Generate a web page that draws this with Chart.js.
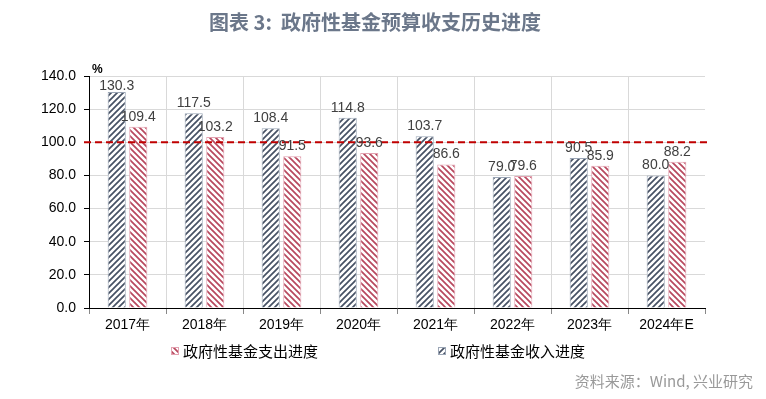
<!DOCTYPE html>
<html>
<head>
<meta charset="utf-8">
<script src="https://cdn.jsdelivr.net/npm/chart.js@4.4.1/dist/chart.umd.min.js"></script>
<style>
  html, body { margin: 0; padding: 0; background: #fff; }
  #wrap { width: 766px; height: 399px; }
</style>
</head>
<body>
<div id="wrap"><canvas id="chart" width="766" height="399"></canvas></div>
<script>
const categories = ["2017年", "2018年", "2019年", "2020年", "2021年", "2022年", "2023年", "2024年E"];
const incomeProgress = [130.3, 117.5, 108.4, 114.8, 103.7, 79.0, 90.5, 80.0];
const spendProgress = [109.4, 103.2, 91.5, 93.6, 86.6, 79.6, 85.9, 88.2];
const seriesNames = ["政府性基金收入进度", "政府性基金支出进度"];
const yMin = 0, yMax = 140, yStep = 20;
const referenceLevel = 100;
const titleText = "图表 3:  政府性基金预算收支历史进度";
const sourceText = "资料来源：Wind, 兴业研究";

const CJK = "'Noto Sans CJK SC', 'Noto Sans', sans-serif";
const NUM = "'Liberation Sans', Arial, sans-serif";

function makeHatch(color, dir) {
    const c = document.createElement("canvas");
    c.width = c.height = 6;
    const g = c.getContext("2d");
    g.fillStyle = "#fff";
    g.fillRect(0, 0, 6, 6);
    g.strokeStyle = color;
    g.lineWidth = 1.7;
    g.beginPath();
    if (dir == "/") {
        g.moveTo(0, 6); g.lineTo(6, 0);
        g.moveTo(-1, 1); g.lineTo(1, -1);
        g.moveTo(5, 7); g.lineTo(7, 5);
    } else {
        g.moveTo(0, 0); g.lineTo(6, 6);
        g.moveTo(-1, 5); g.lineTo(1, 7);
        g.moveTo(5, -1); g.lineTo(7, 1);
    }
    g.stroke();
    return g.createPattern(c, "repeat");
}

const darkHatch = makeHatch("#465164", "/");
const redHatch = makeHatch("#b8485e", "\\");

// page furniture: title, % unit, dashed 100 line, value labels, legend, source
const decorations = {
    id: "decorations",
    afterDatasetsDraw(chart) {
        const ctx = chart.ctx;
        const area = chart.chartArea;
        const y = chart.scales.y;

        // dashed reference line
        const ry = y.getPixelForValue(referenceLevel);
        ctx.save();
        ctx.strokeStyle = "#c00000";
        ctx.lineWidth = 2;
        ctx.setLineDash([7, 4]);
        ctx.beginPath();
        ctx.moveTo(area.left - 5, ry);
        ctx.lineTo(area.right + 3, ry);
        ctx.stroke();
        ctx.restore();

        // value labels
        ctx.save();
        ctx.font = "14px " + NUM;
        ctx.fillStyle = "#404040";
        ctx.textAlign = "center";
        ctx.textBaseline = "bottom";
        chart.data.datasets.forEach((ds, i) => {
            chart.getDatasetMeta(i).data.forEach((bar, j) => {
                const ty = Math.max(bar.y - 3, area.top + 17);
                ctx.fillText(ds.data[j].toFixed(1), bar.x, ty);
            });
        });
        ctx.restore();
    },
    afterDraw(chart) {
        const ctx = chart.ctx;
        const area = chart.chartArea;
        ctx.save();

        // title
        ctx.font = "bold 20px " + CJK;
        ctx.fillStyle = "#6b778a";
        ctx.textAlign = "center";
        ctx.textBaseline = "middle";
        ctx.fillText(titleText, 375, 22);

        // unit
        ctx.font = "bold 12px " + NUM;
        ctx.fillStyle = "#000";
        ctx.textAlign = "left";
        ctx.fillText("%", area.left + 3, area.top - 6);

        // legend, spending first as in the original
        const order = [1, 0];
        const xs = [171, 438];
        ctx.font = "15px " + CJK;
        order.forEach((dsIndex, k) => {
            const ds = chart.data.datasets[dsIndex];
            const bx = xs[k], by = 347;
            ctx.fillStyle = ds.backgroundColor;
            ctx.fillRect(bx, by, 8, 8);
            ctx.strokeStyle = ds.borderColor;
            ctx.lineWidth = 1;
            ctx.strokeRect(bx + 0.5, by + 0.5, 7, 7);
            ctx.fillStyle = "#000";
            ctx.textBaseline = "middle";
            ctx.fillText(ds.label, bx + 12, by + 4);
        });

        // source
        ctx.font = "15px " + CJK;
        ctx.fillStyle = "#999";
        ctx.textAlign = "right";
        ctx.textBaseline = "middle";
        ctx.fillText(sourceText, 753, 381);
        ctx.restore();
    }
};

new Chart(document.getElementById("chart"), {
    type: "bar",
    data: {
        labels: categories,
        datasets: [
            {
                label: seriesNames[0],
                data: incomeProgress,
                backgroundColor: darkHatch,
                borderColor: "#9ba6b6",
                borderWidth: 1,
                categoryPercentage: 0.56,
                barPercentage: 0.84
            },
            {
                label: seriesNames[1],
                data: spendProgress,
                backgroundColor: redHatch,
                borderColor: "#e3a2b1",
                borderWidth: 1,
                categoryPercentage: 0.56,
                barPercentage: 0.84
            }
        ]
    },
    options: {
        responsive: false,
        animation: false,
        layout: { padding: { left: 0, right: 61, top: 76, bottom: 61 } },
        plugins: {
            legend: { display: false },
            title: { display: false },
            tooltip: { enabled: false }
        },
        scales: {
            x: {
                grid: {
                    offset: true,
                    color: (c) => c.type == "scale" ? "rgba(0,0,0,0)" : "#d9d9d9",
                    tickColor: "#888",
                    tickLength: 6
                },
                border: { color: "#000", width: 1 },
                ticks: { font: { family: NUM, size: 14 }, color: "#000", padding: 3 },
                afterFit(s) { s.height = 30; }
            },
            y: {
                min: yMin,
                max: yMax,
                ticks: {
                    stepSize: yStep,
                    callback: (v) => v.toFixed(1),
                    font: { family: NUM, size: 14 },
                    color: "#000",
                    padding: 8
                },
                grid: { color: "#d9d9d9", tickColor: "#000", tickLength: 5 },
                border: { color: "#000", width: 1 },
                afterFit(s) { s.width = 89; }
            }
        }
    },
    plugins: [decorations]
});
</script>
</body>
</html>
